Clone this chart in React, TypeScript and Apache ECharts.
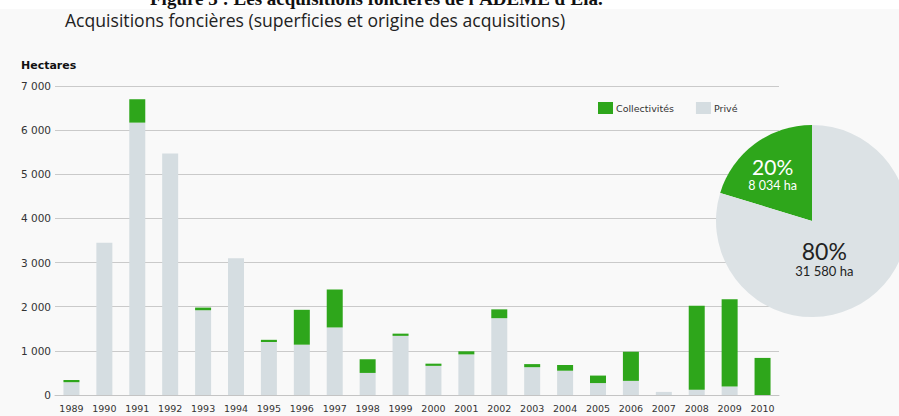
import React, { useEffect, useRef } from "react";
import * as echarts from "echarts";

const years = ["1989","1990","1991","1992","1993","1994","1995","1996","1997","1998","1999","2000","2001","2002","2003","2004","2005","2006","2007","2008","2009","2010"];
const prive = [290,3450,6170,5470,1920,3100,1200,1140,1530,500,1340,660,920,1740,630,550,270,320,70,120,190,0];
const collectivites = [50,0,530,0,60,0,50,790,860,310,50,50,70,200,70,130,170,660,0,1900,1980,840];
const pieNames = ["Collectivités", "Privé"];
const pieValues = [8034, 31580];
const yTicks = [0, 1000, 2000, 3000, 4000, 5000, 6000, 7000];

const GREEN = "#2ea61b";
const GRAY_BAR = "#d5dde1";
const GRAY_PIE = "#dce2e5";

const fmt = (v: number) => String(v).replace(/\B(?=(\d{3})+(?!\d))/g, " ");

export default function App() {
  const ref = useRef<HTMLDivElement>(null);
  useEffect(() => {
    if (!ref.current) return;
    const chart = echarts.init(ref.current, null, { renderer: "svg" });
    chart.setOption({
      animation: false,
      backgroundColor: "#f9f9f9",
      graphic: [
        { type: "rect", left: 0, top: 0, shape: { width: 899, height: 9 }, style: { fill: "#ffffff" }, z: -1 },
        { type: "text", x: 150, y: -2, style: { text: "Figure 3 : Les acquisitions foncières de l'ADEME d'Ela.", font: "bold 19px 'Liberation Serif', 'DejaVu Serif', serif", fill: "#111", verticalAlign: "middle" } },
        { type: "text", x: 65, y: 20, style: { text: "Acquisitions foncières (superficies et origine des acquisitions)", font: "17.6px 'Open Sans', Lato, sans-serif", fill: "#222", verticalAlign: "middle" } },
        { type: "text", x: 21, y: 65, style: { text: "Hectares", font: "bold 11px 'DejaVu Sans', sans-serif", fill: "#111", verticalAlign: "middle" } },
      ],
      legend: {
        data: ["Collectivités", "Privé"],
        left: 593,
        top: 97,
        itemWidth: 15,
        itemHeight: 12,
        itemGap: 22,
        icon: "rect",
        textStyle: { fontSize: 9.5, fontFamily: "'DejaVu Sans', sans-serif", color: "#333", padding: [0, 0, 0, -2] },
      },
      grid: { left: 55, right: 120, top: 86, bottom: 21 },
      xAxis: {
        type: "category",
        data: years,
        axisTick: { show: false },
        axisLine: { lineStyle: { color: "#c4c4c4" } },
        axisLabel: { fontSize: 9.5, fontFamily: "'DejaVu Sans', sans-serif", color: "#333", margin: 8, interval: 0 },
      },
      yAxis: {
        type: "value",
        min: yTicks[0],
        max: yTicks[yTicks.length - 1],
        interval: 1000,
        axisLabel: { fontSize: 10.5, fontFamily: "'DejaVu Sans', sans-serif", color: "#333", margin: 4, formatter: (v: number) => fmt(v) },
        splitLine: { lineStyle: { color: "#cacaca" } },
      },
      series: [
        { name: "Privé", type: "bar", stack: "t", data: prive, barWidth: 16, itemStyle: { color: GRAY_BAR } },
        { name: "Collectivités", type: "bar", stack: "t", data: collectivites, barWidth: 16, itemStyle: { color: GREEN } },
        {
          name: "Répartition",
          type: "pie",
          center: [812, 221],
          radius: 96,
          startAngle: 90,
          clockwise: false,
          silent: true,
          z: 10,
          label: {
            position: "inside",
            fontFamily: "Lato, 'Open Sans', sans-serif",
            formatter: (p: any) => `{p|${Math.round(p.percent)}%}\n{v|${fmt(p.value)} ha}`,
          },
          labelLine: { show: false },
          data: [
            {
              name: pieNames[0],
              value: pieValues[0],
              itemStyle: { color: GREEN },
              label: {
                offset: [-9, -6],
                rich: {
                  p: { fontSize: 21, color: "#ffffff", fontFamily: "Lato, sans-serif", lineHeight: 22 },
                  v: { fontSize: 12.5, color: "#ffffff", fontFamily: "Lato, sans-serif", lineHeight: 15 },
                },
              },
            },
            {
              name: pieNames[1],
              value: pieValues[1],
              itemStyle: { color: GRAY_PIE },
              label: {
                offset: [-18, -3],
                rich: {
                  p: { fontSize: 23, color: "#222", fontFamily: "Lato, sans-serif", lineHeight: 24 },
                  v: { fontSize: 13, color: "#222", fontFamily: "Lato, sans-serif", lineHeight: 16 },
                },
              },
            },
          ],
        },
      ],
    });
    return () => chart.dispose();
  }, []);
  return <div ref={ref} style={{ position: "absolute", left: 0, top: 0, width: 899, height: 416 }} />;
}
